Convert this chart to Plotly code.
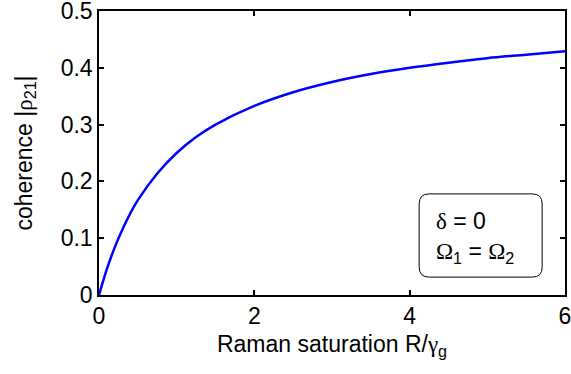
import plotly.graph_objects as go

# Data
raman_saturation = [0, 0.1, 0.2, 0.3, 0.4, 0.5, 0.75, 1.0, 1.25, 1.5, 2.0, 2.5, 3.0, 3.5, 4.0, 4.5, 5.0, 5.5, 6.0]
coherence = [0, 0.045, 0.083, 0.115, 0.143, 0.167, 0.214, 0.25, 0.278, 0.30, 0.333, 0.357, 0.375, 0.389, 0.40, 0.409, 0.417, 0.423, 0.429]

x_ticks = [0, 2, 4, 6]
x_tick_labels = ["0", "2", "4", "6"]
y_ticks = [0, 0.1, 0.2, 0.3, 0.4, 0.5]
y_tick_labels = ["0", "0.1", "0.2", "0.3", "0.4", "0.5"]

FONT = "Liberation Sans, Arial, sans-serif"
GREEK = "Liberation Serif, Times New Roman, serif"
FS = 23

fig = go.Figure()
fig.add_trace(go.Scatter(
    x=raman_saturation, y=coherence, mode="lines",
    line=dict(color="rgb(0,0,255)", width=2.5, shape="spline"),
    showlegend=False, hoverinfo="skip",
))

axis_common = dict(
    showline=True, linecolor="black", linewidth=1.5, mirror="ticks",
    ticks="inside", ticklen=5, tickwidth=1.5, tickcolor="black",
    showgrid=False, zeroline=False, automargin=False,
    ticklabeloverflow="allow",
    tickfont=dict(family=FONT, size=FS, color="black"),
)

fig.update_layout(
    width=571, height=374,
    margin=dict(l=99, r=6, t=11, b=79, autoexpand=False),
    paper_bgcolor="white", plot_bgcolor="white",
    font=dict(family=FONT, color="black"),
    xaxis=dict(range=[0, 6], tickvals=x_ticks, ticktext=x_tick_labels,
               title=dict(text="Raman saturation R/<span style='font-family:" + GREEK + "'>γ</span><sub>g</sub>",
                          font=dict(family=FONT, size=FS), standoff=8),
               **axis_common),
    yaxis=dict(range=[0, 0.5], tickvals=y_ticks, ticktext=y_tick_labels,
               title=dict(text="coherence |<span style='font-family:" + GREEK + "'>ρ</span><sub>21</sub>|",
                          font=dict(family=FONT, size=FS), standoff=22),
               **axis_common),
)

# Rounded legend-like box (paper coords)
x0, x1, y0, y1 = 0.687, 0.951, 0.063, 0.356
rx, ry = 10 / 466, 10 / 284
path = (f"M {x0+rx},{y0} L {x1-rx},{y0} Q {x1},{y0} {x1},{y0+ry} "
        f"L {x1},{y1-ry} Q {x1},{y1} {x1-rx},{y1} "
        f"L {x0+rx},{y1} Q {x0},{y1} {x0},{y1-ry} "
        f"L {x0},{y0+ry} Q {x0},{y0} {x0+rx},{y0} Z")
fig.add_shape(type="path", path=path, xref="paper", yref="paper",
              line=dict(color="black", width=1), fillcolor="white", layer="above")

g = lambda s: f"<span style='font-family:{GREEK}'>{s}</span>"
fig.add_annotation(x=(434 - 99) / 466, y=(295 - 237) / 284, xref="paper", yref="paper",
                   text=g("δ") + " = 0<br>" + g("Ω") + "<sub>1</sub> = " + g("Ω") + "<sub>2</sub>",
                   showarrow=False, xanchor="left", yanchor="middle", align="left",
                   font=dict(family=FONT, size=FS, color="black"))

fig.write_html("out.html")
